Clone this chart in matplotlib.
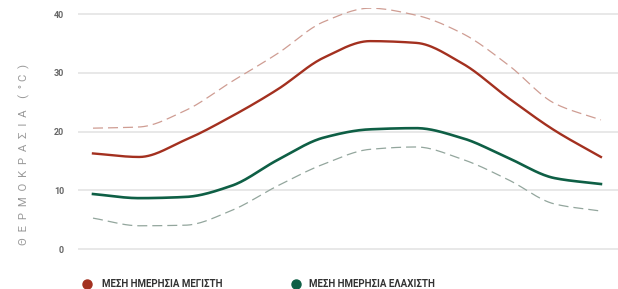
import numpy as np
import matplotlib.pyplot as plt
from matplotlib.lines import Line2D

months = list(range(12))
mean_max = [16.3, 15.7, 18.6, 22.6, 27.2, 32.6, 35.4, 35.1, 31.6, 25.7, 20.2, 15.7]
mean_min = [9.4, 8.7, 8.9, 10.8, 15.2, 19.0, 20.4, 20.6, 18.9, 15.5, 12.1, 11.1]
abs_max = [20.6, 20.8, 23.6, 28.5, 33.3, 38.7, 41.0, 39.8, 36.7, 31.3, 24.8, 22.0]
abs_min = [5.3, 4.0, 4.1, 6.6, 10.8, 14.5, 17.0, 17.4, 15.3, 11.8, 7.7, 6.5]
yticks = [0, 10, 20, 30, 40]
legend_labels = ['ΜΕΣΗ ΗΜΕΡΗΣΙΑ ΜΕΓΙΣΤΗ', 'ΜΕΣΗ ΗΜΕΡΗΣΙΑ ΕΛΑΧΙΣΤΗ']

RED = '#a3301f'
GREEN = '#0e5f45'


def monotone(x, y, n=30):
    # monotone cubic (Fritsch-Carlson) for a smooth line through the points
    x = np.asarray(x, float)
    y = np.asarray(y, float)
    h = np.diff(x)
    d = np.diff(y) / h
    m = np.zeros_like(y)
    m[0], m[-1] = d[0], d[-1]
    for i in range(1, len(y) - 1):
        if d[i - 1] * d[i] <= 0:
            m[i] = 0
        else:
            m[i] = 3 * (h[i - 1] + h[i]) / ((2 * h[i] + h[i - 1]) / d[i - 1] + (h[i] + 2 * h[i - 1]) / d[i])
    xs, ys = [], []
    for i in range(len(x) - 1):
        t = np.linspace(0, 1, n, endpoint=False)
        h00 = 2 * t**3 - 3 * t**2 + 1
        h10 = t**3 - 2 * t**2 + t
        h01 = -2 * t**3 + 3 * t**2
        h11 = t**3 - t**2
        xs.append(x[i] + t * h[i])
        ys.append(h00 * y[i] + h10 * h[i] * m[i] + h01 * y[i + 1] + h11 * h[i] * m[i + 1])
    xs.append([x[-1]])
    ys.append([y[-1]])
    return np.concatenate(xs), np.concatenate(ys)


plt.rcParams['font.family'] = ['Roboto', 'DejaVu Sans']

fig = plt.figure(figsize=(6.18, 2.89), dpi=100)
ax = fig.add_axes([0.1262, 0.117, 0.8738, 0.8547])

for v in yticks:
    ax.axhline(v, color='#e8e8e8', lw=1.4, zorder=0)

ax.plot(*monotone(months, abs_max), color='#cf9d93', lw=0.9, dashes=(8, 4))
ax.plot(*monotone(months, abs_min), color='#93a69d', lw=0.9, dashes=(8, 4))
ax.plot(*monotone(months, mean_max), color=RED, lw=1.7)
ax.plot(*monotone(months, mean_min), color=GREEN, lw=1.9)

ax.set_xlim(-0.325, 11.37)
ax.set_ylim(-1, 41)
ax.set_xticks([])
ax.set_yticks(yticks)
ax.set_yticklabels([str(v) for v in yticks], fontsize=6.5, fontweight='bold', color='#666666')
ax.tick_params(axis='y', length=0, pad=10)
for s in ax.spines.values():
    s.set_visible(False)

fig.text(0.039, 0.467, 'Θ  Ε  Ρ  Μ  Ο  Κ  Ρ  Α  Σ  Ι  Α    (  ° C  )', rotation=90, ha='center', va='center',
         fontsize=8.2, color='#9a9a9a')

# legend
for xm, xt, c, lab in [(87, 102, RED, legend_labels[0]), (296, 309, GREEN, legend_labels[1])]:
    fig.add_artist(Line2D([xm / 618], [1 - 284 / 289], marker='o', markersize=6.5, color=c,
                          transform=fig.transFigure))
    fig.text(xt / 618, 1 - 284 / 289, lab, ha='left', va='center', fontsize=7,
             fontweight='bold', color='#333333')

fig.savefig('out.png', dpi=100, facecolor='white')
